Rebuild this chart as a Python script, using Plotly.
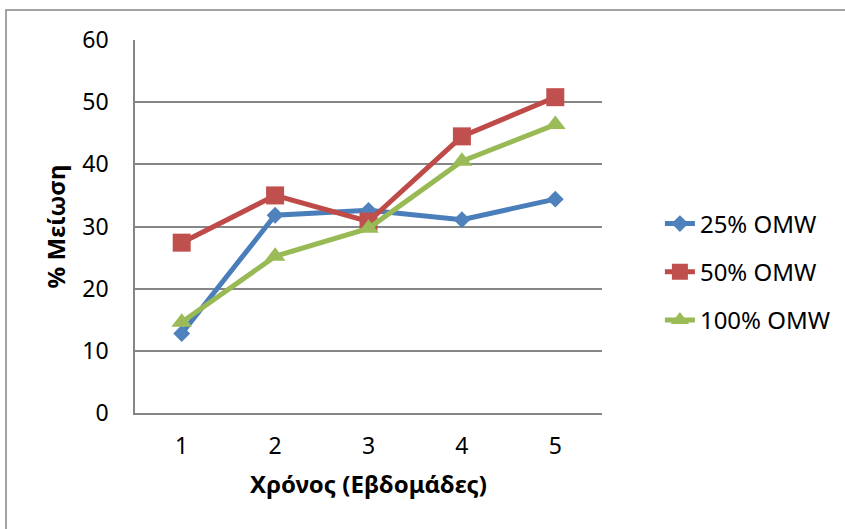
import plotly.graph_objects as go

weeks = ["1", "2", "3", "4", "5"]
omw_25 = [12.8, 31.8, 32.6, 31.1, 34.4]
omw_50 = [27.4, 35.0, 30.8, 44.5, 50.8]
omw_100 = [14.6, 25.2, 29.7, 40.5, 46.4]

series_names = ["25% OMW", "50% OMW", "100% OMW"]
line_colors = ["#4A7EBB", "#BE4B48", "#98B954"]
marker_colors = ["#4F81BD", "#C0504D", "#9BBB59"]
marker_symbols = ["diamond", "square", "triangle-up"]
marker_sizes = [13, 18, 18]

FONT = "Noto Sans"

fig = go.Figure()
for i, (name, vals) in enumerate(zip(series_names, [omw_25, omw_50, omw_100])):
    fig.add_trace(go.Scatter(
        x=weeks, y=vals, name=name, mode="lines+markers",
        line=dict(color=line_colors[i], width=5),
        marker=dict(symbol=marker_symbols[i], size=marker_sizes[i],
                    color=marker_colors[i], line=dict(width=0)),
        legendgroup=name,
    ))

# chart frame
fig.add_shape(type="rect", xref="paper", yref="paper",
              x0=(6 - 135) / 467, x1=(950 - 135) / 467,
              y0=(413 - 600) / 373, y1=(413 - 10) / 373,
              line=dict(color="#868686", width=1.5), fillcolor="rgba(0,0,0,0)",
              layer="below")

fig.update_layout(
    width=845, height=529,
    margin=dict(l=135, r=243, t=40, b=116, autoexpand=False),
    paper_bgcolor="white", plot_bgcolor="white",
    font=dict(family=FONT, size=23, color="#000000"),
    showlegend=True,
    legend=dict(x=1.124, y=0.378, xanchor="left", yanchor="middle",
                traceorder="grouped", tracegroupgap=14,
                font=dict(family=FONT, size=24),
                bgcolor="rgba(0,0,0,0)"),
    xaxis=dict(
        type="category", range=[-0.5, 4.5],
        showgrid=False, showline=True, linecolor="#868686", linewidth=1.5,
        ticks="", ticklabelstandoff=12,
        title=dict(text="<b>Χρόνος (Εβδομάδες)</b>", font=dict(size=24), standoff=16),
    ),
    yaxis=dict(
        range=[0, 60], dtick=10, tick0=0,
        showgrid=True, gridcolor="#868686", gridwidth=1.5,
        showline=True, linecolor="#868686", linewidth=1.5,
        zeroline=False, ticks="", ticklabelstandoff=20,
        title=dict(text="<b>% Μείωση</b>", font=dict(size=24), standoff=10),
    ),
)

fig.write_html("out.html")
